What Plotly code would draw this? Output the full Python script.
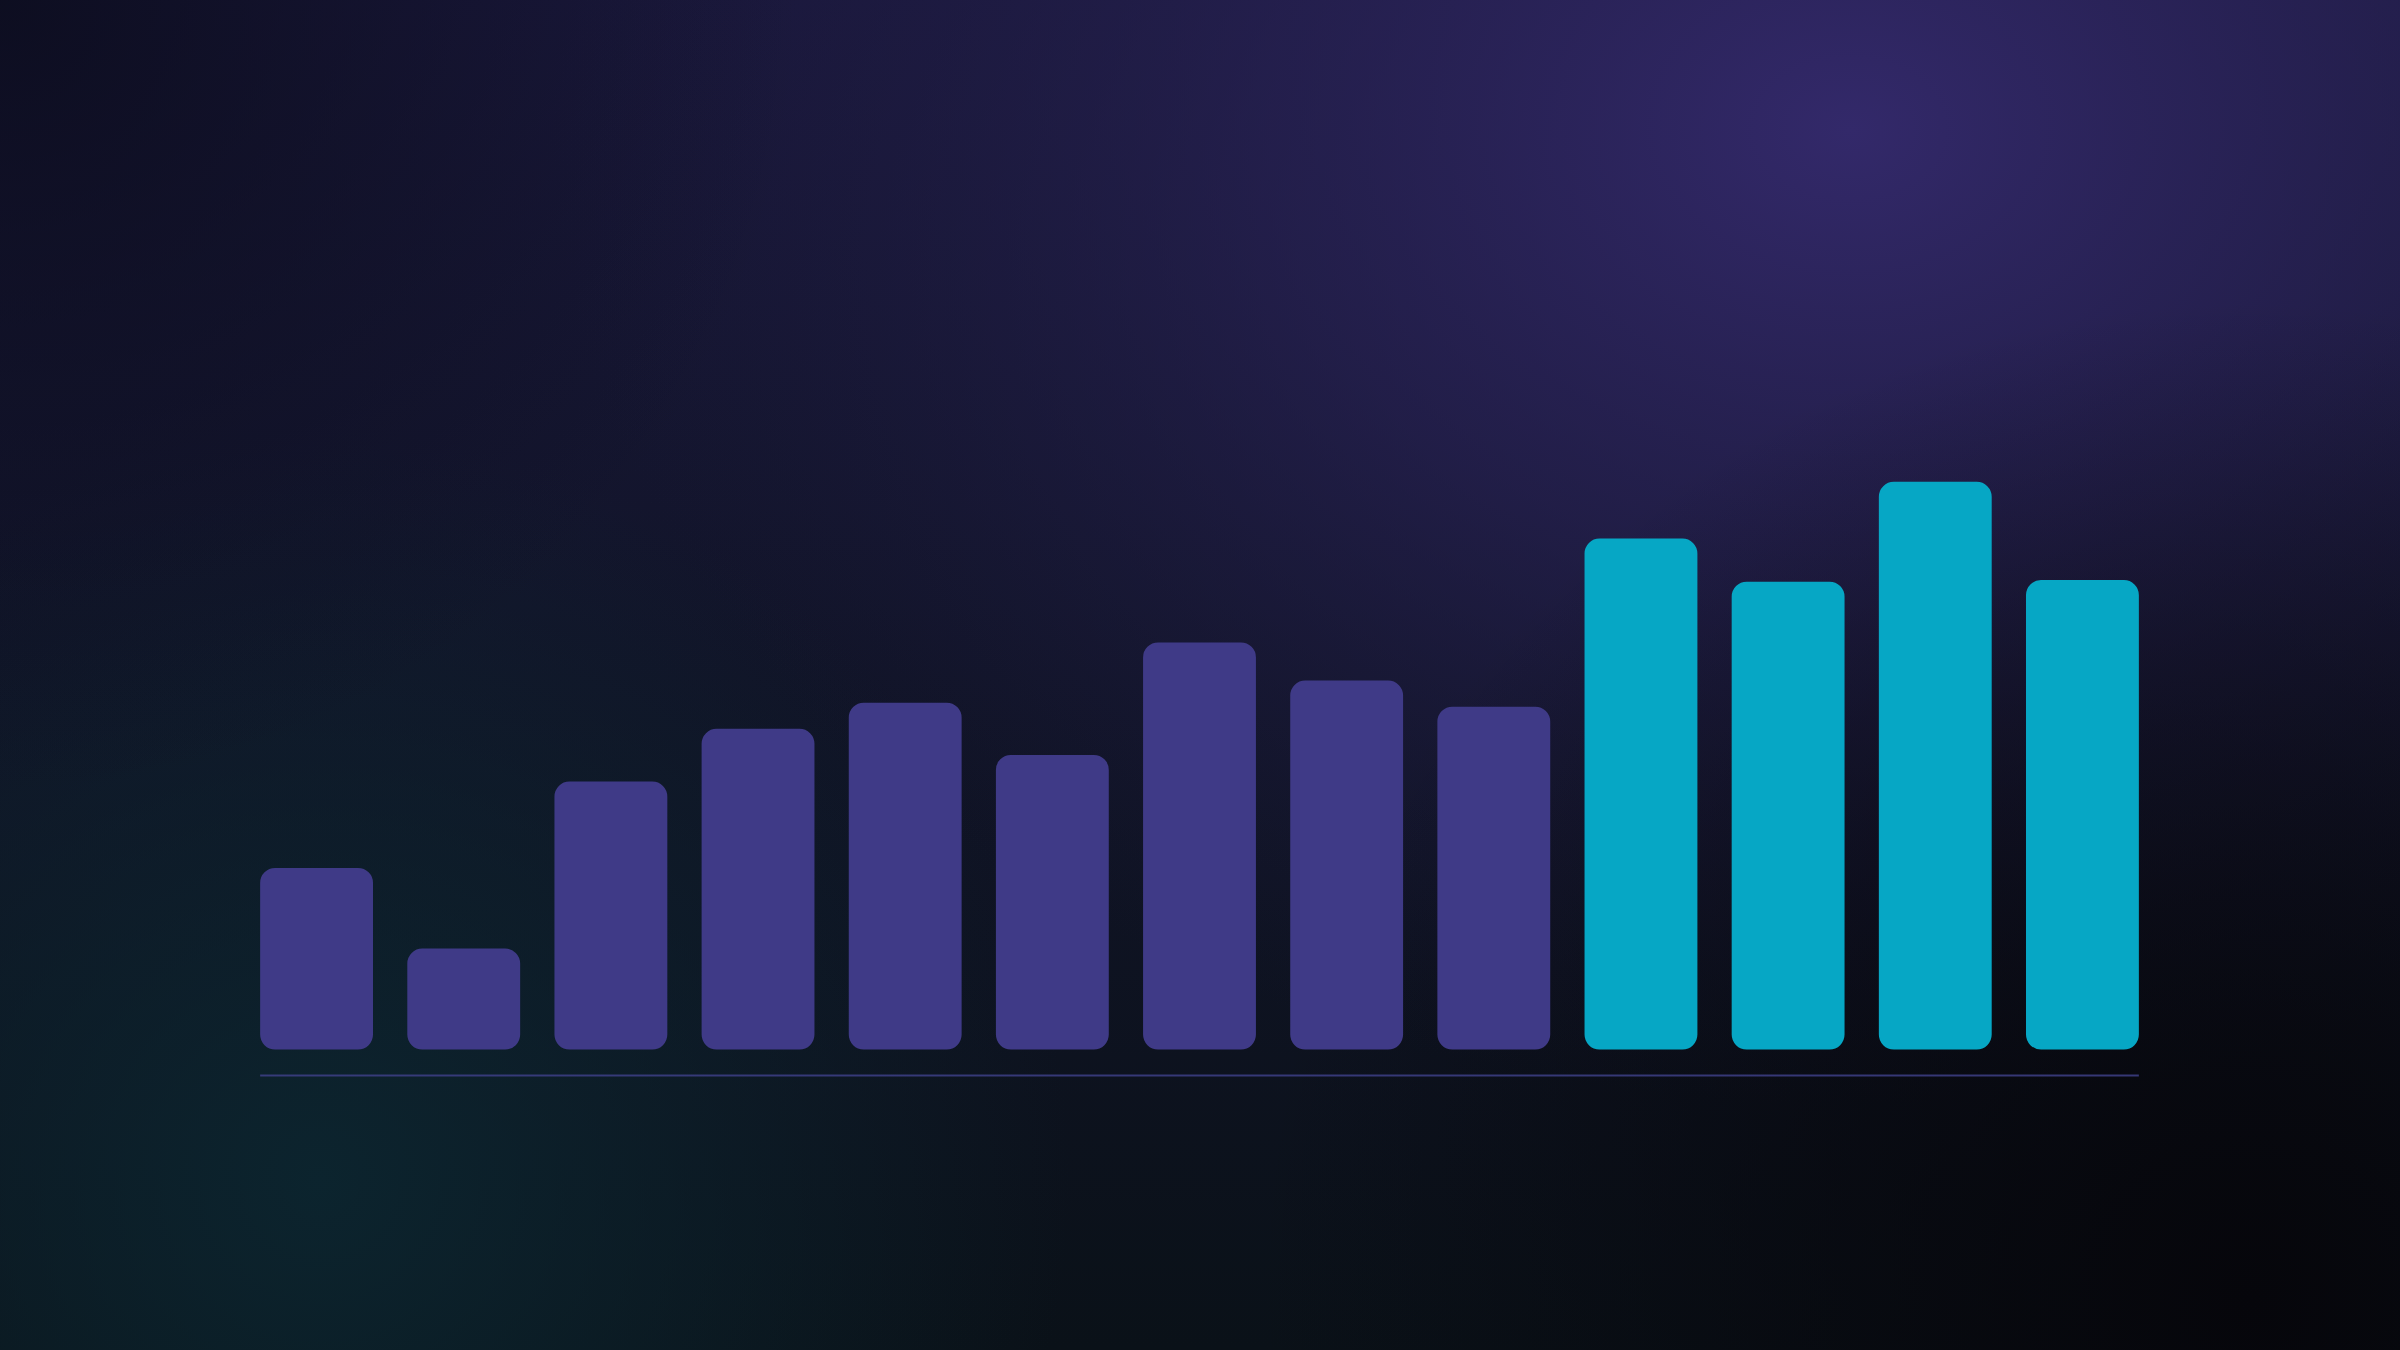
import base64
import plotly.graph_objects as go

# 13 periods, no labels shown on the chart
periods = list(range(13))
values = [32.0, 17.8, 47.2, 56.5, 61.1, 51.9, 71.7, 65.0, 60.4, 90.0, 82.4, 100.0, 82.7]
highlighted = [False] * 9 + [True] * 4

PURPLE = "#3f3a87"
CYAN = "#06a7c5"
colors = [CYAN if h else PURPLE for h in highlighted]

W, H = 2400, 1350
L, R, T, B = 243, 244, 425, 255
YMIN, YMAX = -8, 110
BARGAP = 0.233
RADIUS = 15

# background: dark gradient with a purple glow top-right, teal tint bottom-left
svg = f"""<svg xmlns='http://www.w3.org/2000/svg' width='{W}' height='{H}' viewBox='0 0 {W} {H}' preserveAspectRatio='none'>
<defs>
<linearGradient id='base' x1='0' y1='0' x2='0' y2='1'>
<stop offset='0' stop-color='#1a183c'/>
<stop offset='0.5' stop-color='#111428'/>
<stop offset='1' stop-color='#0a1118'/>
</linearGradient>
<radialGradient id='glow' cx='1850' cy='130' r='1300' gradientUnits='userSpaceOnUse' gradientTransform='translate(1850 130) scale(1 0.75) translate(-1850 -130)'>
<stop offset='0' stop-color='#33296a' stop-opacity='1'/>
<stop offset='0.45' stop-color='#2a2358' stop-opacity='0.6'/>
<stop offset='1' stop-color='#1c1a3c' stop-opacity='0'/>
</radialGradient>
<radialGradient id='teal' cx='320' cy='1180' r='750' gradientUnits='userSpaceOnUse'>
<stop offset='0' stop-color='#0c2630' stop-opacity='0.9'/>
<stop offset='1' stop-color='#0c2630' stop-opacity='0'/>
</radialGradient>
<radialGradient id='dark' cx='2250' cy='1300' r='1000' gradientUnits='userSpaceOnUse'>
<stop offset='0' stop-color='#06060b' stop-opacity='1'/>
<stop offset='1' stop-color='#06060b' stop-opacity='0'/>
</radialGradient>
<radialGradient id='tl' cx='0' cy='0' r='800' gradientUnits='userSpaceOnUse'>
<stop offset='0' stop-color='#0b0c1c' stop-opacity='0.85'/>
<stop offset='1' stop-color='#0b0c1c' stop-opacity='0'/>
</radialGradient>
</defs>
<rect width='{W}' height='{H}' fill='url(#base)'/>
<rect width='{W}' height='{H}' fill='url(#glow)'/>
<rect width='{W}' height='{H}' fill='url(#teal)'/>
<rect width='{W}' height='{H}' fill='url(#dark)'/>
<rect width='{W}' height='{H}' fill='url(#tl)'/>
</svg>"""
bg_src = "data:image/svg+xml;base64," + base64.b64encode(svg.encode()).decode()

plot_w = W - L - R
plot_h = H - T - B
px_per_unit = plot_h / (YMAX - YMIN)

fig = go.Figure()

# an explicit base makes plotly round both ends of each bar
fig.add_trace(go.Bar(
    x=periods, y=values, base=[0] * len(values),
    marker=dict(color=colors, line=dict(width=0), cornerradius=RADIUS),
    hoverinfo="skip", showlegend=False))

half = (1 - BARGAP) / 2
fig.add_shape(type="line", xref="x", yref="y",
              x0=periods[0] - half, x1=periods[-1] + half,
              y0=-26 / px_per_unit, y1=-26 / px_per_unit,
              line=dict(color="rgba(62,64,135,0.85)", width=2))

fig.add_layout_image(dict(
    source=bg_src, xref="paper", yref="paper",
    x=-L / plot_w, y=1 + T / plot_h, sizex=W / plot_w, sizey=H / plot_h,
    xanchor="left", yanchor="top", sizing="stretch", layer="below"))

fig.update_layout(
    width=W, height=H,
    margin=dict(l=L, r=R, t=T, b=B, pad=0),
    paper_bgcolor="#0f1224", plot_bgcolor="rgba(0,0,0,0)",
    barmode="overlay", bargap=BARGAP,
    hovermode=False,
)
fig.update_xaxes(range=[-0.5, 12.5], visible=False, fixedrange=True)
fig.update_yaxes(range=[YMIN, YMAX], visible=False, fixedrange=True)

fig.write_html("out.html", config={"displayModeBar": False},
               post_script="document.body.style.margin='0';document.body.style.overflow='hidden';")
